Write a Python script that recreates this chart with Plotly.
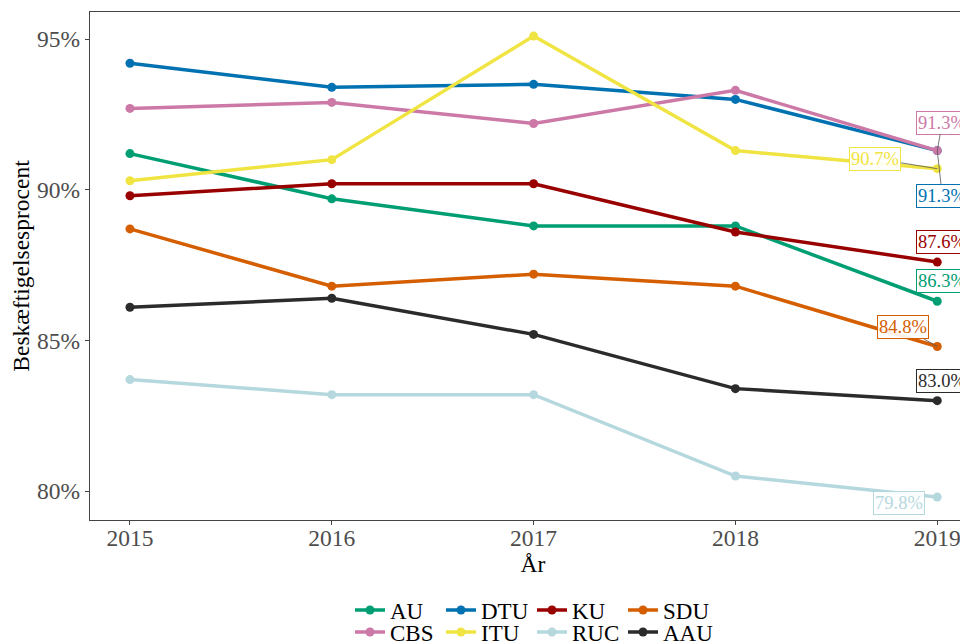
import plotly.graph_objects as go

years = [2015, 2016, 2017, 2018, 2019]
series_names = ["AU", "DTU", "KU", "SDU", "CBS", "ITU", "RUC", "AAU"]
au = [91.2, 89.7, 88.8, 88.8, 86.3]
dtu = [94.2, 93.4, 93.5, 93.0, 91.3]
ku = [89.8, 90.2, 90.2, 88.6, 87.6]
sdu = [88.7, 86.8, 87.2, 86.8, 84.8]
cbs = [92.7, 92.9, 92.2, 93.3, 91.3]
itu = [90.3, 91.0, 95.1, 91.3, 90.7]
ruc = [83.7, 83.2, 83.2, 80.5, 79.8]
aau = [86.1, 86.4, 85.2, 83.4, 83.0]
values = {"AU": au, "DTU": dtu, "KU": ku, "SDU": sdu, "CBS": cbs, "ITU": itu, "RUC": ruc, "AAU": aau}
colors = {"AU": "#009E73", "DTU": "#0072B2", "KU": "#990000", "SDU": "#D55E00",
          "CBS": "#CC79A7", "ITU": "#F0E442", "RUC": "#B5D8DE", "AAU": "#2b2b2b"}
y_ticks = [80, 85, 90, 95]
y_tick_labels = ["80%", "85%", "90%", "95%"]

# label offsets (pixels) from the 2019 point, and whether a segment is drawn
label_offsets = {"CBS": (5, -28, True), "DTU": (5, 45, True), "ITU": (-62, -10, True),
                 "KU": (5, -20, False), "AU": (5, -20, False), "SDU": (-34, -19, True),
                 "AAU": (5, -20, False), "RUC": (-38, 6, False)}

FONT = "Liberation Serif"
fig = go.Figure()
row1 = ["AU", "DTU", "KU", "SDU"]
for name in series_names:
    fig.add_trace(go.Scatter(
        x=years, y=values[name], mode="lines+markers", name=name,
        line=dict(color=colors[name], width=3.5),
        marker=dict(color=colors[name], size=9),
        legend="legend" if name in row1 else "legend2",
    ))

for name in series_names:
    ax, ay, seg = label_offsets[name]
    v = values[name][-1]
    fig.add_annotation(
        x=years[-1], y=v, xref="x", yref="y", text=f"{v:.1f}%",
        showarrow=True, ax=ax, ay=ay, arrowhead=0, arrowwidth=0.8,
        arrowcolor="#555555" if seg else "rgba(0,0,0,0)",
        font=dict(family=FONT, size=18.5, color=colors[name]),
        bgcolor="rgba(255,255,255,0.9)", bordercolor=colors[name], borderwidth=1, borderpad=1,
    )

legend_common = dict(orientation="h", xref="container", yref="container",
                     xanchor="left", yanchor="middle", entrywidth=46, entrywidthmode="pixels",
                     font=dict(family=FONT, size=23, color="black"), bgcolor="rgba(0,0,0,0)",
                     itemwidth=30, tracegroupgap=0)

fig.update_layout(
    width=968, height=644,
    margin=dict(l=82, r=0, t=4, b=132),
    paper_bgcolor="white", plot_bgcolor="white",
    font=dict(family=FONT, color="black"),
    showlegend=True,
    legend=dict(x=342 / 968, y=1 - 602 / 644, **legend_common),
    legend2=dict(x=342 / 968, y=1 - 624 / 644, **legend_common),
    xaxis=dict(range=[2014.802, 2019.192], tickvals=years, ticktext=[str(y) for y in years],
               showgrid=False, zeroline=False, showline=True, linecolor="#444444", linewidth=1.3,
               mirror=True, ticks="outside", ticklen=4, tickcolor="#444444",
               ticklabelstandoff=-7,
               tickfont=dict(family=FONT, size=23.5, color="#4d4d4d"),
               title=dict(text="År", font=dict(family=FONT, size=23.5, color="black"), standoff=5)),
    yaxis=dict(range=[79.04, 95.9], tickvals=y_ticks, ticktext=y_tick_labels,
               showgrid=False, zeroline=False, showline=True, linecolor="#444444", linewidth=1.3,
               ticks="outside", ticklen=4, tickcolor="#444444",
               tickfont=dict(family=FONT, size=23.5, color="#4d4d4d"),
               title=dict(text="Beskæftigelsesprocent", font=dict(family=FONT, size=23.5, color="black"), standoff=10)),
)

fig.write_html("out.html")
